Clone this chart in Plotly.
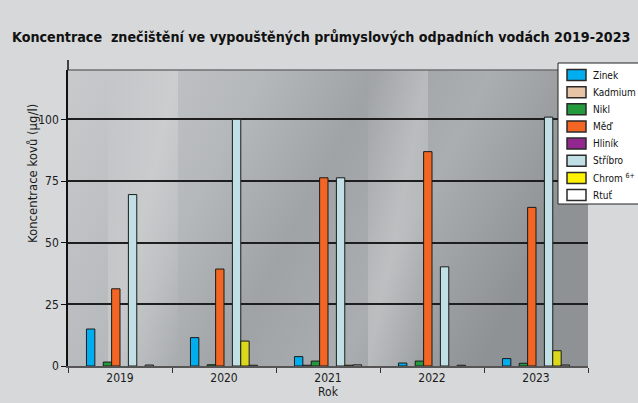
import base64
import plotly.graph_objects as go

years = ["2019", "2020", "2021", "2022", "2023"]
series_names = ["Zinek", "Kadmium", "Nikl", "Měď", "Hliník", "Stříbro", "Chrom <sup>6+</sup>", "Rtuť"]
zinek = [15.0, 11.5, 3.8, 1.2, 3.0]
kadmium = [None, None, 0.3, None, None]
nikl = [1.6, 0.5, 2.0, 2.0, 1.1]
med = [31.3, 39.3, 76.3, 86.9, 64.3]
hlinik = [None, None, None, None, None]
stribro = [69.5, 100.0, 76.3, 40.2, 100.9]
chrom = [None, 10.1, 0.3, None, 6.2]
rtut = [0.4, 0.3, 0.5, 0.3, 0.4]
series_values = [zinek, kadmium, nikl, med, hlinik, stribro, chrom, rtut]
colors = ["#00aeef", "#e8c4a6", "#239a3b", "#f26522", "#92278f", "#c1e0e5", "#dcd91c", "#ffffff"]
legend_colors = ["#00aeef", "#e8c4a6", "#239a3b", "#f26522", "#92278f", "#c1e0e5", "#fff200", "#ffffff"]
y_ticks = [0, 25, 50, 75, 100]

FONT = "DejaVu Sans Condensed, Liberation Sans Narrow, sans-serif"

# plot-area geometry in pixels (used to place the custom legend)
W, H = 638, 403
ML, MR, MT, MB = 68, 50, 70, 37
PW, PH = W - ML - MR, H - MT - MB


def px_x(x):
    return (x - ML) / PW


def px_y(y):
    return (H - MB - y) / PH


fig = go.Figure()
for name, vals, col in zip(series_names, series_values, colors):
    fig.add_trace(go.Bar(
        x=years, y=vals, name=name, showlegend=False,
        marker=dict(color=col, line=dict(color="#1a1a1a", width=1)),
    ))

svg = """<svg xmlns='http://www.w3.org/2000/svg' width='520' height='296' preserveAspectRatio='none'>
<defs>
<linearGradient id='g' x1='0' y1='0' x2='1' y2='0.3'>
<stop offset='0' stop-color='#c8cacc'/>
<stop offset='0.35' stop-color='#b5b8ba'/>
<stop offset='0.55' stop-color='#a0a3a6'/>
<stop offset='0.75' stop-color='#abaeb0'/>
<stop offset='1' stop-color='#8e9295'/>
</linearGradient>
<linearGradient id='s' x1='0' y1='0' x2='1' y2='1'>
<stop offset='0' stop-color='#ffffff' stop-opacity='0'/>
<stop offset='0.5' stop-color='#ffffff' stop-opacity='0.22'/>
<stop offset='1' stop-color='#ffffff' stop-opacity='0'/>
</linearGradient>
</defs>
<rect width='520' height='296' fill='url(#g)'/>
<rect x='40' y='0' width='70' height='296' fill='url(#s)'/>
<rect x='300' y='0' width='60' height='296' fill='url(#s)'/>
</svg>"""
src = "data:image/svg+xml;base64," + base64.b64encode(svg.encode()).decode()

shapes = [
    # top frame of plot area
    dict(type="line", xref="paper", yref="paper", x0=0, x1=1, y0=1, y1=1,
         line=dict(color="#6e7072", width=1.5), layer="below"),
    # y axis line extension above plot
    dict(type="line", xref="paper", yref="paper", x0=0, x1=0, y0=1, y1=px_y(60),
         line=dict(color="#111", width=1.5)),
    # legend box
    dict(type="rect", xref="paper", yref="paper", x0=px_x(558), x1=px_x(650),
         y0=px_y(204), y1=px_y(63), fillcolor="#ffffff",
         line=dict(color="#222", width=1)),
]
annotations = [
    dict(text="Koncentrace kovů (µg/l)", xref="paper", yref="paper",
         x=px_x(32), y=px_y(174), textangle=-90, showarrow=False,
         xanchor="center", yanchor="middle", font=dict(size=13, color="#1a1a1a")),
]
step = 17.15
for i, (name, col) in enumerate(zip(series_names, legend_colors)):
    cy = 75 + i * step
    shapes.append(dict(
        type="rect", xref="paper", yref="paper",
        x0=px_x(567), x1=px_x(586), y0=px_y(cy + 5.5), y1=px_y(cy - 5.5),
        fillcolor=col, line=dict(color="#2a2a2a", width=1.5),
    ))
    annotations.append(dict(
        text=name, xref="paper", yref="paper", x=px_x(591), y=px_y(cy),
        xanchor="left", yanchor="middle", showarrow=False,
        font=dict(family=FONT, size=10, color="#111"),
    ))

fig.update_layout(
    width=W, height=H,
    margin=dict(l=ML, r=MR, t=MT, b=MB, autoexpand=False),
    paper_bgcolor="#d6d8da",
    plot_bgcolor="#aeb1b3",
    barmode="group",
    bargap=0.355,
    bargroupgap=0,
    font=dict(family=FONT, size=12, color="#1a1a1a"),
    title=dict(
        text="<b>Koncentrace  znečištění ve vypouštěných průmyslových odpadních vodách 2019-2023</b>",
        font=dict(family=FONT, size=14.2, color="#111"),
        x=12 / W, xanchor="left", xref="container",
        y=1 - 37 / H, yanchor="middle", yref="container",
    ),
    xaxis=dict(
        title=dict(text="Rok", font=dict(size=12), standoff=1),
        showline=True, linecolor="#555", linewidth=1.5,
        ticks="outside", tickson="boundaries", ticklen=5, tickcolor="#333",
        showgrid=False, tickfont=dict(size=12),
    ),
    yaxis=dict(
        range=[0, 120], tickvals=y_ticks,
        showline=True, linecolor="#111", linewidth=1.5,
        ticks="outside", ticklen=5, tickcolor="#111",
        showgrid=True, gridcolor="#1e1e1e", gridwidth=1.5,
        zeroline=False, tickfont=dict(size=12),
    ),
    shapes=shapes,
    annotations=annotations,
    images=[dict(
        source=src, xref="paper", yref="paper", x=0, y=1,
        sizex=1, sizey=1, sizing="stretch", layer="below",
    )],
    showlegend=False,
)

fig.write_html(
    "out.html",
    config={"displayModeBar": False},
    post_script="document.body.style.margin='0';document.body.style.overflow='hidden';",
)
